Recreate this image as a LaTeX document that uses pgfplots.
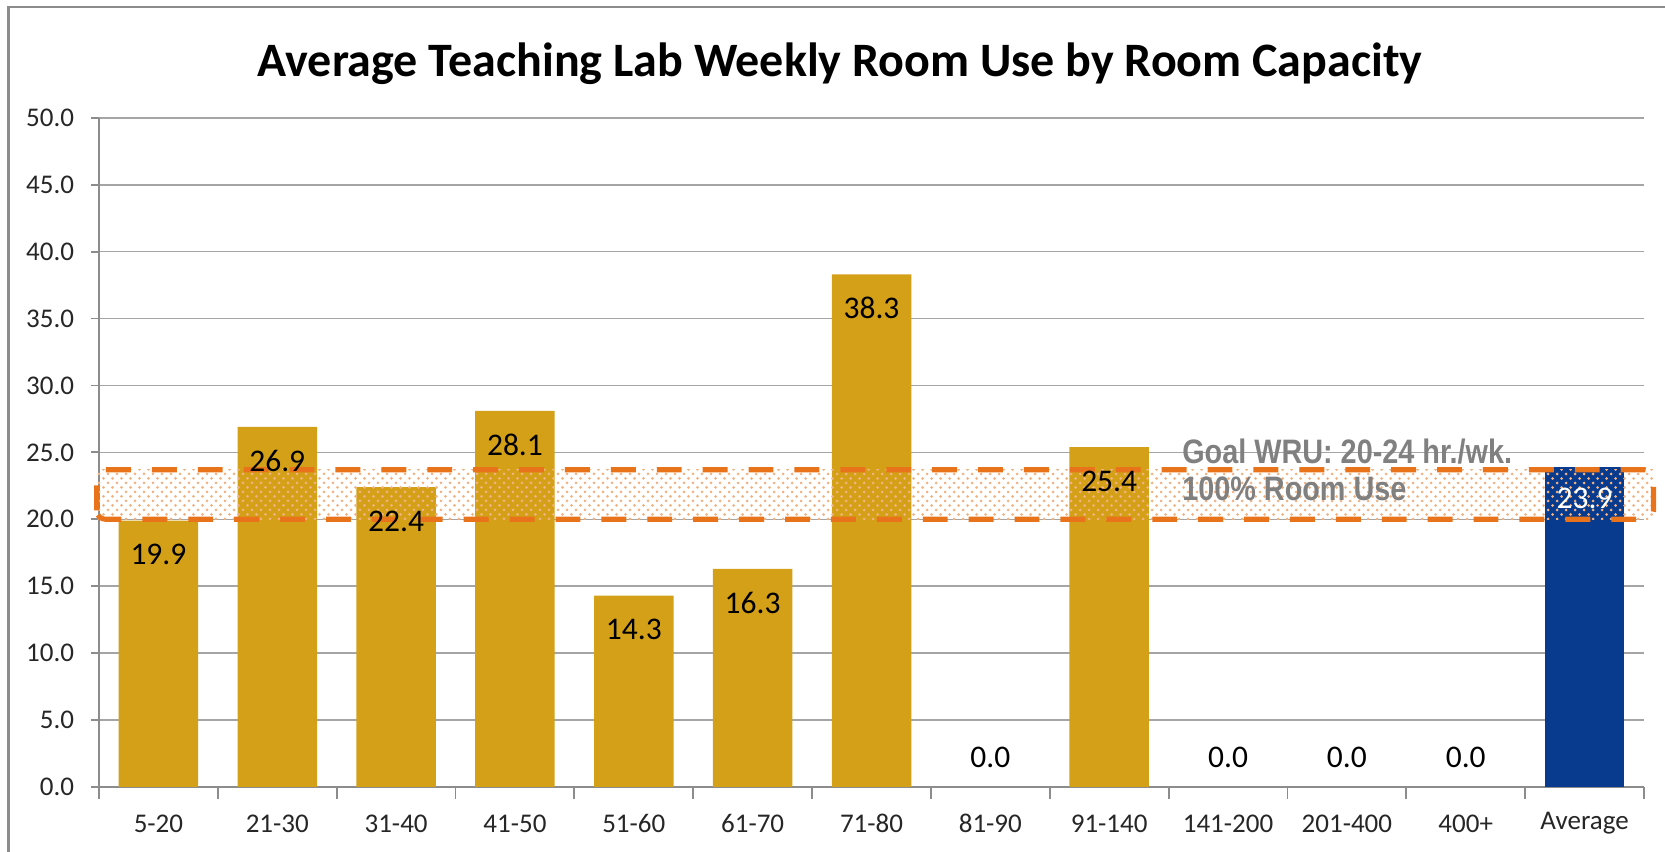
\documentclass[border=0pt]{standalone}
\usepackage{fontspec}
\setmainfont{Carlito}
\newfontfamily\goalfont[FakeStretch=0.85]{Liberation Sans}
\usepackage{pgfplots}
\pgfplotsset{compat=1.18}
\usetikzlibrary{patterns}
\definecolor{gold}{RGB}{212,160,23}
\definecolor{avgblue}{RGB}{8,58,142}
\definecolor{goalorange}{RGB}{232,115,26}
\definecolor{gridgray}{RGB}{165,165,165}
\definecolor{axgray}{RGB}{140,140,140}
\begin{document}
\begin{tikzpicture}
\useasboundingbox (0,0) rectangle (555pt,284pt);
\draw[axgray, line width=0.8pt] (2.8pt,-20pt) rectangle (600pt,281.6pt);
\node[anchor=base, font=\fontsize{16}{19}\selectfont\bfseries] at (280pt,258.5pt) {Average Teaching Lab Weekly Room Use by Room Capacity};
\begin{axis}[
  at={(33pt,21.7pt)}, anchor=south west,
  scale only axis, width=515pt, height=223pt,
  xmin=-0.5, xmax=12.5, ymin=0, ymax=50,
  clip=false,
  axis x line=bottom, axis y line=left,
  axis line style={-, axgray, line width=0.6pt},
  ytick={0,5,...,50},
  yticklabel style={/pgf/number format/fixed, /pgf/number format/precision=1, /pgf/number format/fixed zerofill, font=\fontsize{9}{10}\selectfont, text=black!85, xshift=-2.3pt},
  /pgf/number format/assume math mode=true,
  ymajorgrids, grid style={gridgray, line width=0.5pt},
  xtick={0,...,12},
  xticklabels={5-20,21-30,31-40,41-50,51-60,61-70,71-80,81-90,91-140,141-200,201-400,400+,Average},
  xticklabel style={font=\fontsize{9}{10}\selectfont, text=black!85, anchor=center, yshift=-9.7pt},
  major x tick style={draw=none},
  minor xtick={-0.5,0.5,...,12.5},
  minor x tick style={axgray, line width=0.6pt},
  minor tick length=4pt,
  major tick length=2.5pt,
  tick align=outside,
  ytick style={axgray, line width=0.6pt},
  ybar, bar width=26.5pt, bar shift=0pt,
  nodes near coords,
  point meta=y,
  nodes near coords style={font=\fontsize{10.5}{12}\selectfont, /pgf/number format/fixed, /pgf/number format/precision=1, /pgf/number format/fixed zerofill},
]
\addplot[fill=gold, draw=none, every node near coord/.append style={anchor=center, yshift=-11.3pt, text=black}]
  coordinates {(0,19.9) (1,26.9) (2,22.4) (3,28.1) (4,14.3) (5,16.3) (6,38.3) (8,25.4)};
\addplot[draw=none, fill=none, every node near coord/.append style={anchor=center, yshift=9.7pt, text=black}]
  coordinates {(7,0) (9,0) (10,0) (11,0)};
\addplot[fill=avgblue, draw=none, every node near coord/.append style={anchor=center, yshift=-10.5pt, text=white}]
  coordinates {(12,23.9)};
\fill[pattern=crosshatch dots, pattern color=goalorange!55] (axis cs:-0.52,20) rectangle (axis cs:12.58,23.7);
\draw[goalorange, line width=1.7pt, dash pattern=on 8.3pt off 7pt, rounded corners=3pt] (axis cs:-0.52,20) rectangle (axis cs:12.58,23.7);
\node[anchor=base west, inner sep=0, text=black!50, font=\goalfont\fontsize{11.3}{13}\selectfont\bfseries] at (axis cs:8.61,24.2) {Goal WRU: 20-24 hr./wk.};
\node[anchor=base west, inner sep=0, text=black!50, font=\goalfont\fontsize{11.3}{13}\selectfont\bfseries] at (axis cs:8.61,21.4) {100\% Room Use};
\end{axis}
\end{tikzpicture}
\end{document}
